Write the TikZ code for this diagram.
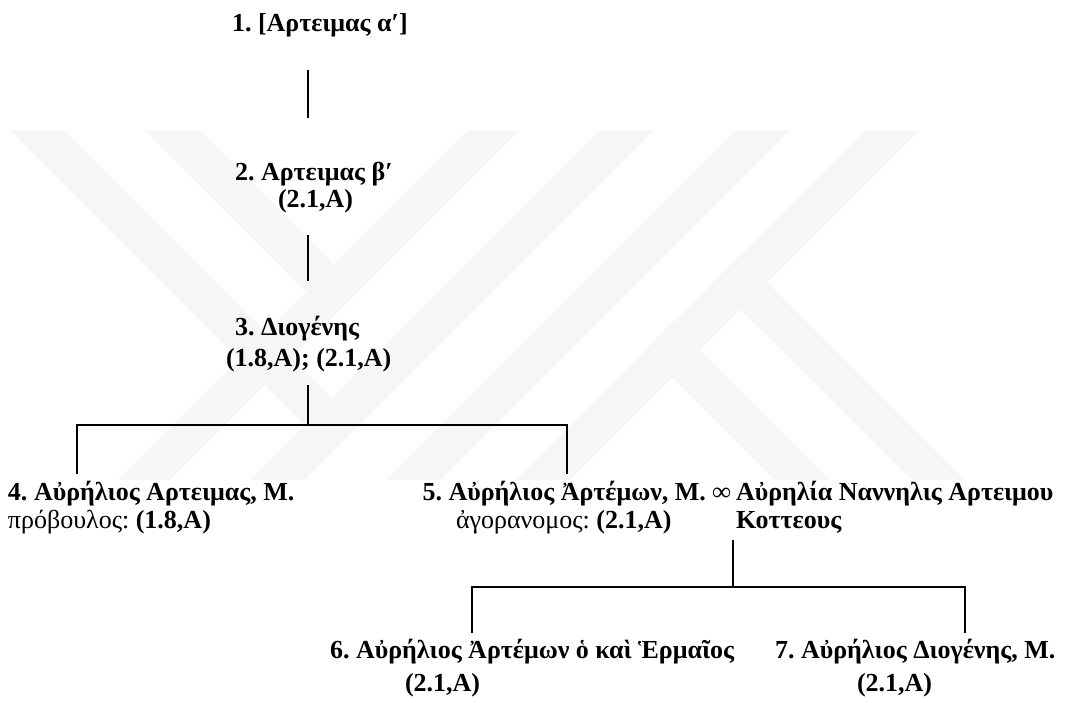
\documentclass[tikz,border=0pt]{standalone}
\usepackage{fontspec}
\setmainfont{Liberation Serif}
\frenchspacing
\begin{document}
\begin{tikzpicture}[x=1pt,y=-1pt,
  every node/.style={inner sep=0pt, outer sep=0pt, anchor=base west,
    font=\fontsize{26}{30}\selectfont\bfseries},
  link/.style={line width=1.3pt, black},
  band/.style={fill=gray!7, draw=none}]
\useasboundingbox (0,0) rectangle (1075,702);

% light background emblem made of diagonal bands
\fill[band] (10,130) -- (64,130) -- (359,425) -- (332,452) -- cycle;
\fill[band] (145,130) -- (200,130) -- (360,290) -- (332,318) -- cycle;
\fill[band] (468,130) -- (520,130) -- (170,480) -- (118,480) -- cycle;
\fill[band] (600,130) -- (654,130) -- (304,480) -- (250,480) -- cycle;
\fill[band] (736,130) -- (790,130) -- (440,480) -- (386,480) -- cycle;
\fill[band] (865,130) -- (920,130) -- (570,480) -- (515,480) -- cycle;
\fill[band] (713,282) -- (740,255) -- (965,480) -- (912,480) -- cycle;
\fill[band] (645,350) -- (672,322) -- (830,480) -- (775,480) -- cycle;

% persons
\node (p1)  at (232,31)  {1. [Αρτειμας α′]};
\node (p2)  at (235,180) {2. Αρτειμας β′};
\node (p2r) at (278,207) {(2.1,A)};
\node (p3)  at (235,335) {3. Διογένης};
\node (p3r) at (226,366) {(1.8,A); (2.1,A)};
\node (p4)  at (8,500)   {4. Αὐρήλιος Αρτειμας, Μ.};
\node (p4r) at (8,528)   {{\mdseries πρόβουλος:} (1.8,A)};
\node[anchor=base east] (p5) at (731,500) {5. Αὐρήλιος Ἀρτέμων, Μ. ∞};
\node (sp)  at (736,500) {Αὐρηλία Ναννηλις Αρτειμου};
\node (p5r) at (456,528) {{\mdseries ἀγορανομος:} (2.1,A)};
\node (spr) at (736,528) {Κοττεους};
\node (p6)  at (330,658) {6. Αὐρήλιος Ἀρτέμων ὁ καὶ Ἑρμαῖος};
\node (p6r) at (405,691) {(2.1,A)};
\node (p7)  at (775,658) {7. Αὐρήλιος Διογένης, Μ.};
\node (p7r) at (857,691) {(2.1,A)};

% descent lines
\coordinate (a1) at (308,70);  \coordinate (b1) at (308,118);
\coordinate (a2) at (308,235); \coordinate (b2) at (308,281);
\coordinate (a3) at (308,385); \coordinate (j3) at (308,425);
\coordinate (h4) at (77,425);  \coordinate (h5) at (567,425);
\coordinate (e4) at (77,474);  \coordinate (e5) at (567,474);
\coordinate (a5) at (733,540); \coordinate (j5) at (733,587);
\coordinate (h6) at (472,587); \coordinate (h7) at (965,587);
\coordinate (e6) at (472,633); \coordinate (e7) at (965,633);

\draw[link] (a1) -- (b1);
\draw[link] (a2) -- (b2);
\draw[link] (a3) -- (j3);
\draw[link] (e4) -- (h4) -- (h5) -- (e5);
\draw[link] (a5) -- (j5);
\draw[link] (e6) -- (h6) -- (h7) -- (e7);
\end{tikzpicture}
\end{document}
